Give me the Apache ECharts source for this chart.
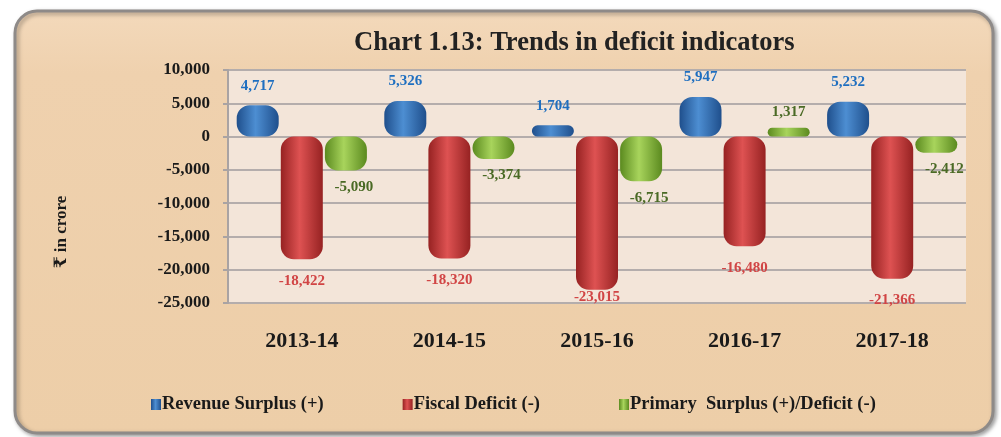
<!DOCTYPE html>
<html>
<head>
<meta charset="utf-8">
<script src="https://cdn.jsdelivr.net/npm/echarts@6/dist/echarts.min.js"></script>
<style>
  html, body { margin: 0; padding: 0; background: #ffffff; }
  #chart { width: 1001px; height: 437px; }
</style>
</head>
<body>
<div id="chart"></div>
<script>
// data
const years = ["2013-14", "2014-15", "2015-16", "2016-17", "2017-18"];
const revenueSurplus = [4717, 5326, 1704, 5947, 5232];
const fiscalDeficit = [-18422, -18320, -23015, -16480, -21366];
const primarySurplus = [-5090, -3374, -6715, 1317, -2412];
const seriesNames = ["Revenue Surplus (+)", "Fiscal Deficit (-)", "Primary  Surplus (+)/Deficit (-)"];

const serif = "'Liberation Serif', 'DejaVu Serif', 'Times New Roman', serif";

function tube(dark, light) {
  return new echarts.graphic.LinearGradient(0, 0, 1, 0, [
    { offset: 0, color: dark },
    { offset: 0.45, color: light },
    { offset: 1, color: dark },
  ]);
}

const fmt = (p) => p.value.toLocaleString("en-US");

let myChart = echarts.init(document.getElementById("chart"));

let option = {
  animation: false,
  graphic: [
    {
      type: "rect",
      z: -10,
      shape: { x: 15, y: 11, width: 978, height: 422, r: 22 },
      style: {
        fill: new echarts.graphic.LinearGradient(0, 0, 0, 1, [
          { offset: 0, color: "#f3d9bb" },
          { offset: 0.15, color: "#efd1ae" },
          { offset: 1, color: "#edcea8" },
        ]),
        stroke: "#8e8a88",
        lineWidth: 3,
        shadowColor: "rgba(0,0,0,0.35)",
        shadowBlur: 4,
        shadowOffsetX: 2,
        shadowOffsetY: 2,
      },
    },
    {
      // y axis caption
      type: "text",
      x: 62,
      y: 232,
      rotation: Math.PI / 2,
      style: {
        text: "₹ in crore",
        fontFamily: serif,
        fontWeight: "bold",
        fontSize: 17,
        fill: "#1a1a1a",
        align: "center",
        verticalAlign: "middle",
      },
    },
  ],
  title: {
    text: "Chart 1.13: Trends in deficit indicators",
    left: 349,
    top: 25,
    textStyle: {
      fontFamily: serif,
      fontWeight: "bold",
      fontSize: 26.5,
      color: "#222222",
    },
  },
  legend: {
    data: seriesNames,
    left: 146,
    top: 390,
    itemWidth: 10,
    itemHeight: 11,
    itemGap: 79,
    icon: "rect",
    textStyle: {
      fontFamily: serif,
      fontWeight: "bold",
      fontSize: 18.5,
      color: "#1a1a1a",
      padding: [0, 0, 0, -4],
    },
  },
  grid: {
    left: 228,
    right: 35,
    top: 70,
    bottom: 134,
    show: true,
    backgroundColor: "#f3e5d9",
    borderWidth: 0,
  },
  xAxis: {
    type: "category",
    data: years,
    axisLine: { onZero: false, show: false },
    axisTick: { show: false },
    axisLabel: {
      margin: 27,
      fontFamily: serif,
      fontWeight: "bold",
      fontSize: 22,
      color: "#1a1a1a",
    },
  },
  yAxis: {
    type: "value",
    min: -25000,
    max: 10000,
    interval: 5000,
    axisLine: { show: true, lineStyle: { color: "#a9a3a3", width: 2 } },
    axisTick: { show: true, length: 5, lineStyle: { color: "#a9a3a3", width: 2 } },
    splitLine: { lineStyle: { color: "#b4adac", width: 2 } },
    axisLabel: {
      margin: 18,
      fontFamily: serif,
      fontWeight: "bold",
      fontSize: 17,
      color: "#1a1a1a",
      formatter: (v) => v.toLocaleString("en-US"),
    },
  },
  series: [
    {
      name: seriesNames[0],
      type: "bar",
      data: revenueSurplus,
      barWidth: 42,
      barGap: "5%",
      itemStyle: { color: tube("#1f4f8c", "#4d8ed2"), borderRadius: 13 },
      label: {
        show: true,
        position: "top",
        distance: 12,
        formatter: fmt,
        fontFamily: serif,
        fontWeight: "bold",
        fontSize: 15,
        color: "#1f6fc0",
      },
    },
    {
      name: seriesNames[1],
      type: "bar",
      data: fiscalDeficit,
      barWidth: 42,
      barGap: "5%",
      itemStyle: { color: tube("#962222", "#de5252"), borderRadius: 13 },
      label: {
        show: true,
        position: "bottom",
        distance: 14,
        formatter: fmt,
        fontFamily: serif,
        fontWeight: "bold",
        fontSize: 15,
        color: "#d14545",
      },
    },
    {
      name: seriesNames[2],
      type: "bar",
      data: primarySurplus,
      barWidth: 42,
      barGap: "5%",
      itemStyle: { color: tube("#5b8a1f", "#a8d45c"), borderRadius: 13 },
      label: {
        show: true,
        position: "bottom",
        distance: 9,
        offset: [8, 0],
        formatter: fmt,
        fontFamily: serif,
        fontWeight: "bold",
        fontSize: 15,
        color: "#4a6a25",
      },
    },
  ],
};

// the one positive primary surplus sits above its bar
option.series[2].data = primarySurplus.map((v) =>
  v > 0 ? { value: v, label: { position: "top", distance: 8, offset: [0, 0] } } : v
);
// the deepest fiscal deficit label is tucked against the axis
option.series[1].data = fiscalDeficit.map((v) =>
  v < -22000 ? { value: v, label: { distance: 0 } } : v
);

myChart.setOption(option);
</script>
</body>
</html>
